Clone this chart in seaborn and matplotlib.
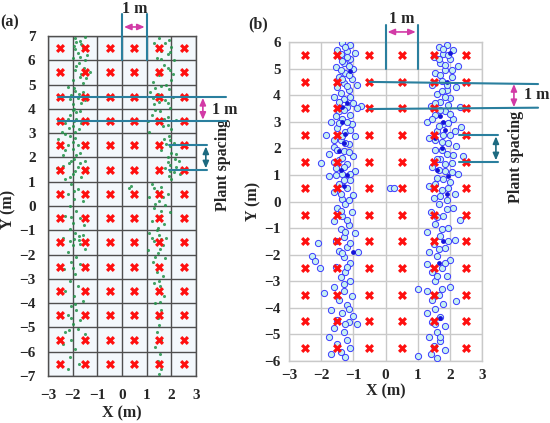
import itertools
import numpy as np
import pandas as pd
import seaborn as sns
import matplotlib.pyplot as plt

sns.set_theme(style="white")
plt.rcParams["font.family"] = ["Liberation Serif", "DejaVu Serif"]
plt.rcParams["font.weight"] = "bold"

# cell centres where the red crosses sit
cross_x = [-2.5, -1.5, -0.5, 0.5, 1.5, 2.5]
cross_y_a = [6.5, 5.5, 4.5, 3.5, 2.5, 1.5, 0.5, -0.5, -1.5, -2.5, -3.5, -4.5, -5.5, -6.5]
cross_y_b = [5.5, 4.5, 3.5, 2.5, 1.5, 0.5, -0.5, -1.5, -2.5, -3.5, -4.5, -5.5]

# (a) green canopy points, left and right plant rows
green_left = [
    (-1.9, 6.9), (-1.7, 6.8), (-1.5, 6.95), (-1.95, 6.6), (-1.6, 6.5), (-1.8, 6.3), (-1.4, 6.2),
    (-2.0, 6.1), (-1.75, 5.9), (-1.55, 5.7), (-1.9, 5.6), (-1.3, 5.5), (-1.7, 5.3), (-2.0, 5.2),
    (-1.6, 5.05), (-2.2, 4.9), (-1.9, 4.75), (-1.6, 4.7), (-2.05, 4.55), (-1.8, 4.45), (-1.5, 4.35),
    (-2.0, 4.2), (-1.95, 4.0), (-1.7, 3.9), (-2.1, 3.75), (-1.85, 3.6), (-1.55, 3.55), (-2.3, 3.4),
    (-2.0, 3.3), (-1.75, 3.15), (-2.45, 3.05), (-2.1, 2.9), (-1.9, 2.8), (-2.6, 2.75), (-1.6, 2.6),
    (-2.2, 2.5), (-2.0, 2.35), (-1.7, 2.2), (-2.4, 2.1), (-1.95, 1.95), (-1.5, 1.85), (-2.15, 1.75),
    (-1.8, 1.6), (-2.65, 1.55), (-1.4, 1.45), (-2.0, 1.3), (-1.65, 1.2), (-2.3, 1.1), (-2.05, 0.9),
    (-1.8, 0.7), (-2.2, 0.5), (-1.95, 0.3), (-1.6, 0.2), (-2.1, 0.0), (-1.85, -0.2), (-2.3, -0.4),
    (-1.7, -0.5), (-2.0, -0.7), (-1.55, -0.8), (-2.1, -0.95), (-1.9, -1.1), (-1.6, -1.2),
    (-2.4, -1.3), (-1.75, -1.4), (-2.0, -1.6), (-1.5, -1.75), (-2.2, -1.9), (-1.85, -2.1),
    (-2.05, -2.3), (-1.7, -2.4), (-2.35, -2.6), (-1.9, -2.8), (-2.1, -3.1), (-1.8, -3.3),
    (-2.3, -3.5), (-1.95, -3.7), (-1.6, -3.9), (-2.05, -4.1), (-1.85, -4.3), (-2.2, -4.5),
    (-1.7, -4.7), (-2.0, -4.85), (-1.8, -5.05), (-2.3, -5.2), (-1.5, -5.25), (-2.05, -5.5),
    (-2.4, -5.7), (-1.9, -5.9), (-2.1, -6.2), (-1.75, -6.5), (-2.2, -6.7),
    # denser tufts along the upper half of the row
    (-1.85, 6.75), (-1.65, 6.65), (-1.45, 6.55), (-1.9, 6.45), (-1.7, 6.15), (-1.5, 6.0),
    (-1.85, 5.75), (-1.65, 5.45), (-1.45, 5.25), (-1.95, 4.85), (-1.75, 4.6), (-2.1, 4.4),
    (-1.65, 4.25), (-2.0, 3.95), (-1.85, 3.85), (-2.2, 3.6), (-1.95, 3.5), (-1.65, 3.4),
    (-2.15, 3.2), (-1.9, 3.05), (-2.3, 2.95), (-2.0, 2.65), (-1.8, 2.5), (-2.3, 2.3),
    (-1.85, 2.1), (-2.05, 1.85), (-1.7, 1.75), (-2.4, 1.65), (-1.9, 1.45), (-1.6, 1.55),
    (-2.1, 1.2), (-1.95, 0.6), (-2.05, -0.45), (-1.75, -1.25), (-1.95, -1.35), (-2.1, -1.45),
    (-1.7, -1.55), (-2.0, -2.55), (-1.9, -4.05), (-2.05, -4.6), (-2.15, -5.1),
]
green_right = [
    (1.5, 6.9), (1.9, 6.85), (1.3, 6.7), (2.0, 6.55), (1.6, 6.4), (1.85, 6.25), (1.4, 6.1),
    (2.1, 6.0), (1.7, 5.8), (1.95, 5.6), (1.5, 5.4), (2.0, 5.2), (1.25, 5.1), (1.6, 4.95),
    (1.9, 4.8), (1.15, 4.7), (1.45, 4.6), (2.05, 4.5), (1.75, 4.35), (1.3, 4.2), (1.95, 4.05),
    (1.55, 3.9), (1.2, 3.75), (1.85, 3.65), (2.2, 3.55), (1.4, 3.4), (1.65, 3.3), (2.0, 3.15),
    (1.1, 3.05), (1.9, 2.9), (1.7, 2.75), (2.1, 2.6), (1.95, 2.45), (1.6, 2.3), (2.2, 2.15),
    (1.85, 2.0), (2.3, 1.85), (1.95, 1.7), (1.75, 1.55), (2.1, 1.4), (1.9, 1.25), (2.0, 1.1),
    (1.2, 0.9), (1.6, 0.8), (1.4, 0.6), (1.85, 0.5), (1.1, 0.35), (1.5, 0.2), (1.75, 0.05),
    (1.3, -0.1), (1.95, -0.25), (1.55, -0.4), (1.2, -0.6), (1.7, -0.75), (1.45, -0.9),
    (1.1, -1.1), (1.5, -1.2), (1.8, -1.3), (1.3, -1.45), (1.65, -1.6), (1.05, -1.8), (1.45, -1.95),
    (1.75, -2.15), (1.25, -2.3), (1.55, -2.5), (1.4, -2.7), (1.65, -2.9), (1.3, -3.15),
    (1.55, -3.3), (1.45, -3.5), (1.7, -3.7), (1.35, -4.0), (1.6, -4.3), (1.45, -4.6), (1.5, -4.9),
    (1.4, -5.2), (1.6, -5.5), (1.35, -5.8), (1.55, -6.1), (1.45, -6.4), (1.6, -6.7), (1.5, -6.9),
    (1.75, 6.7), (1.45, 6.5), (1.95, 6.35), (1.6, 6.05), (1.85, 5.7), (2.05, 5.45),
    (1.8, 5.0), (1.35, 4.85), (1.6, 4.55), (1.25, 4.45), (1.5, 4.3), (1.85, 4.25),
    (1.35, 3.95), (1.7, 3.6), (1.5, 3.55), (1.05, 3.5), (1.85, 3.35), (1.95, 2.7),
    (1.8, 2.55), (2.0, 2.2), (2.15, 1.95), (1.85, 1.8), (2.2, 1.6), (1.95, 1.45),
    (2.35, 1.3), (1.3, 0.75), (1.65, 0.35), (1.35, 0.1), (1.6, -0.2), (1.4, -1.0),
    (1.6, -1.35), (1.2, -1.3), (1.55, -1.75), (1.35, -2.1), (1.5, -3.1), (1.55, -3.95),
    (0.3, 0.75), (0.35, 0.82),
]

# (b) blue canopy contours, open blobs and dark cores
blue_left = [
    (-1.35, 5.95), (-1.1, 5.9), (-1.5, 5.7), (-1.2, 5.65), (-0.95, 5.6), (-1.4, 5.45), (-1.1, 5.35),
    (-1.3, 5.2), (-1.55, 5.05), (-1.0, 5.0), (-1.25, 4.85), (-1.45, 4.7), (-1.05, 4.6), (-1.3, 4.45),
    (-0.9, 4.4), (-1.5, 4.3), (-1.15, 4.2), (-1.6, 3.95), (-1.3, 3.85), (-1.0, 3.7), (-0.75, 3.6),
    (-1.2, 3.55), (-1.45, 3.4), (-1.1, 3.25), (-1.35, 3.1), (-1.7, 3.0), (-1.05, 2.9), (-1.5, 2.75),
    (-1.25, 2.6), (-1.85, 2.5), (-0.95, 2.45), (-1.4, 2.3), (-1.15, 2.15), (-1.6, 2.05), (-1.3, 1.9),
    (-1.75, 1.8), (-1.0, 1.7), (-1.45, 1.55), (-2.0, 1.45), (-1.2, 1.4), (-1.55, 1.25), (-0.95, 1.15),
    (-1.35, 1.05), (-1.75, 0.95), (-1.1, 0.8), (-1.45, 0.65), (-1.2, 0.5), (-1.6, 0.35), (-1.0, 0.25),
    (-1.35, 0.1), (-1.25, -0.1), (-1.5, -0.25), (-1.05, -0.4), (-1.35, -0.55), (-1.6, -0.75),
    (-1.15, -0.9), (-1.4, -1.05), (-0.95, -1.2), (-1.3, -1.35), (-1.55, -1.5), (-2.1, -1.55),
    (-1.2, -1.7), (-1.45, -1.85), (-0.85, -1.9), (-2.3, -2.05), (-2.2, -2.25), (-1.3, -2.1),
    (-1.1, -2.3), (-1.55, -2.45), (-2.05, -2.5), (-1.25, -2.65), (-1.4, -2.85), (-1.1, -3.0),
    (-1.6, -3.2), (-1.3, -3.35), (-1.9, -3.45), (-1.05, -3.55), (-1.45, -3.7), (-1.2, -3.9),
    (-1.7, -4.1), (-1.35, -4.2), (-1.0, -4.3), (-1.5, -4.45), (-1.15, -4.55), (-0.9, -4.6),
    (-1.6, -4.75), (-1.3, -4.9), (-1.75, -5.1), (-1.2, -5.2), (-1.5, -5.35), (-1.1, -5.5),
    (-1.4, -5.65), (-1.7, -5.75), (-1.25, -5.85),
    (-1.25, 5.8), (-1.4, 5.55), (-1.2, 5.45), (-1.35, 5.3), (-1.15, 5.1), (-1.4, 4.95),
    (-1.15, 4.75), (-1.35, 4.6), (-1.2, 4.35), (-1.4, 4.1), (-1.1, 3.95), (-1.45, 3.75),
    (-0.9, 3.5), (-1.3, 3.45), (-1.55, 3.2), (-1.2, 3.0), (-1.45, 2.95), (-1.1, 2.7),
    (-1.35, 2.45), (-1.6, 2.3), (-1.25, 2.2), (-1.5, 1.95), (-1.15, 1.85), (-1.35, 1.65),
    (-1.6, 1.5), (-1.3, 1.3), (-1.1, 1.05), (-1.55, 1.0), (-1.3, 0.8), (-1.4, 0.3),
    (-1.15, 0.05), (-1.4, -0.35), (-1.2, -0.7), (-1.25, -1.15), (-1.1, -1.55), (-1.35, -1.95),
    (-1.2, -2.45), (-1.3, -3.1), (-1.15, -4.05), (-1.25, -4.6),
]
blue_right = [
    (1.9, 5.9), (1.65, 5.8), (2.1, 5.7), (1.8, 5.55), (1.5, 5.45), (2.0, 5.35), (1.7, 5.2),
    (2.25, 5.1), (1.85, 4.95), (1.55, 4.85), (2.05, 4.7), (1.75, 4.55), (1.45, 4.4), (2.2, 4.3),
    (1.9, 4.2), (1.6, 4.05), (2.0, 3.9), (1.7, 3.75), (1.4, 3.6), (2.3, 3.55), (1.85, 3.4),
    (1.55, 3.25), (2.1, 3.1), (1.3, 3.0), (1.8, 2.9), (2.35, 2.8), (1.6, 2.65), (2.0, 2.5),
    (1.35, 2.4), (1.75, 2.25), (2.2, 2.1), (1.55, 1.95), (1.9, 1.8), (2.4, 1.7), (1.7, 1.6),
    (2.05, 1.45), (1.45, 1.3), (1.85, 1.15), (2.25, 1.05), (1.6, 0.9), (2.0, 0.75), (1.35, 0.6),
    (1.75, 0.45), (2.15, 0.3), (1.5, 0.15), (1.9, 0.05), (1.65, -0.1), (2.1, -0.25), (1.4, -0.4),
    (1.8, -0.55), (2.3, -0.7), (1.55, -0.85), (1.95, -1.0), (1.3, -1.15), (1.7, -1.3), (2.15, -1.45),
    (1.5, -1.6), (1.85, -1.75), (1.35, -1.9), (1.6, -2.05), (2.0, -2.2), (1.3, -2.35), (1.75, -2.5),
    (1.45, -2.65), (1.9, -2.8), (1.55, -3.0), (2.0, -3.2), (1.3, -3.35), (1.0, -3.3), (1.65, -3.5),
    (1.45, -3.7), (1.8, -3.85), (2.2, -3.75), (1.55, -4.05), (1.3, -4.2), (1.7, -4.35),
    (1.45, -4.55), (1.85, -4.7), (1.6, -4.9), (1.35, -5.1), (1.7, -5.25), (1.5, -5.45),
    (1.85, -5.6), (1.0, -5.8), (1.6, -5.9), (1.4, -5.75), (0.15, 0.5), (0.27, 0.5),
    (1.8, 5.75), (1.95, 5.5), (1.65, 5.35), (1.85, 5.15), (2.05, 4.95), (1.7, 4.75),
    (1.9, 4.4), (1.75, 4.15), (1.85, 3.95), (1.55, 3.7), (1.95, 3.65), (1.7, 3.45),
    (2.0, 3.3), (1.45, 3.1), (1.95, 2.95), (1.65, 2.85), (2.15, 2.65), (1.8, 2.5),
    (1.55, 2.3), (1.95, 2.2), (1.75, 1.95), (2.1, 1.75), (1.6, 1.6), (1.85, 1.4),
    (1.65, 1.2), (2.05, 1.1), (1.8, 0.85), (1.55, 0.65), (1.95, 0.5), (1.7, 0.2),
    (1.9, -0.3), (1.6, -0.6), (1.75, -1.05), (1.95, -1.5), (1.65, -1.8), (1.85, -2.3),
    (1.6, -2.8), (1.75, -3.3), (1.55, -4.6), (1.7, -5.1),
]
blue_dark = [
    (-1.2, 3.7), (-1.35, 3.0), (-1.3, 2.2), (-1.45, 1.9), (-1.2, 1.0), (-1.3, 0.6), (-1.0, -1.9),
    (-1.1, 4.9), (1.9, 4.5), (1.7, 3.2), (1.85, 2.7), (1.75, 2.0), (1.6, 1.2), (1.9, 0.3),
    (1.8, -1.5), (1.65, -2.3), (1.7, -4.4), (2.0, 5.6), (-1.35, 3.55), (-1.25, 2.55),
    (1.8, 3.0), (1.55, 2.4), (-1.4, 1.2), (1.95, 0.95),
]

teal = "#2a7f9e"
magenta = "#d23aa6"
dark_teal = "#1d6a80"

fig = plt.figure(figsize=(5.5, 4.23), dpi=100)
ax_a = fig.add_axes([0.0873, 0.111, 0.269, 0.804])
ax_b = fig.add_axes([0.5255, 0.1466, 0.351, 0.754])


def crosses(ax, ys):
    df = pd.DataFrame(list(itertools.product(cross_x, ys)), columns=["x", "y"])
    sns.scatterplot(data=df, x="x", y="y", marker="X", color="#ff1010", s=42,
                    linewidth=0, ax=ax, zorder=5)


def frame(ax, ylim, gridcol, face, pad):
    ax.set_xlim(-3, 3)
    ax.set_ylim(*ylim)
    ax.set_xticks(range(-3, 4))
    ax.set_yticks(range(ylim[0], ylim[1] + 1))
    ax.set_facecolor(face)
    ax.grid(True, color=gridcol, lw=1.0)
    ax.set_axisbelow(True)
    for s in ax.spines.values():
        s.set_color(gridcol)
        s.set_linewidth(1.0)
    ax.tick_params(length=0, labelsize=11, pad=pad)
    for lab in ax.get_xticklabels() + ax.get_yticklabels():
        lab.set_fontweight("bold")


def arrow(ax, p0, p1, col):
    ax.annotate("", xy=p1, xytext=p0, annotation_clip=False,
                arrowprops=dict(arrowstyle="<|-|>,head_length=0.35,head_width=0.15",
                                color=col, lw=1.2, shrinkA=0, shrinkB=0))


def txt(ax, x, y, s, rot=0):
    ax.text(x, y, s, ha="center", va="center", fontsize=11.5, fontweight="bold",
            rotation=rot, clip_on=False)


# ---- panel (a)
frame(ax_a, (-7, 7), "#4f4f4f", "#f3f8fc", 9)
ga = pd.DataFrame(green_left + green_right, columns=["x", "y"])
sns.scatterplot(data=ga, x="x", y="y", marker="o", color="#23924a", s=5, alpha=0.85,
                linewidth=0, ax=ax_a, zorder=3)
crosses(ax_a, cross_y_a)
ax_a.set_xlabel("X (m)", fontsize=11.5, fontweight="bold", labelpad=3)
ax_a.set_ylabel("Y (m)", fontsize=11.5, fontweight="bold")
ax_a.yaxis.set_label_coords(-0.215, 0.49)

for xv in (0, 1):
    ax_a.plot([xv, xv], [6, 7.9], color=teal, lw=1.5, clip_on=False, zorder=6)
arrow(ax_a, (0.08, 7.37), (0.92, 7.37), magenta)
txt(ax_a, 0.5, 8.12, "1 m")
for yv in (4.5, 3.5):
    ax_a.plot([-2.6, 4.2], [yv, yv], color=teal, lw=1.5, clip_on=False, zorder=6)
arrow(ax_a, (3.28, 4.45), (3.28, 3.55), magenta)
txt(ax_a, 4.17, 3.95, "1 m")
for yv in (2.5, 1.5):
    ax_a.plot([1.9, 3.45], [yv, yv], color=teal, lw=1.5, clip_on=False, zorder=6)
arrow(ax_a, (3.4, 2.45), (3.4, 1.55), dark_teal)
txt(ax_a, 4.1, 1.69, "Plant spacing", rot=90)

# ---- panel (b)
frame(ax_b, (-6, 6), "#c9c9c9", "white", 6)
bb = pd.DataFrame(blue_left + blue_right, columns=["x", "y"])
sns.scatterplot(data=bb, x="x", y="y", marker="o", s=20, facecolor="#c6f1f1",
                edgecolor="#3a3aff", linewidth=0.7, ax=ax_b, zorder=3)
bd = pd.DataFrame(blue_dark, columns=["x", "y"])
sns.scatterplot(data=bd, x="x", y="y", marker="o", s=12, color="#1414d8",
                linewidth=0, ax=ax_b, zorder=4)
crosses(ax_b, cross_y_b)
ax_b.set_xlabel("X (m)", fontsize=11.5, fontweight="bold", labelpad=1)
ax_b.set_ylabel("Y (m)", fontsize=11.5, fontweight="bold")
ax_b.yaxis.set_label_coords(-0.145, 0.5)

for xv in (0, 1):
    ax_b.plot([xv, xv], [5, 6.64], color=teal, lw=1.5, clip_on=False, zorder=6)
arrow(ax_b, (0.06, 6.38), (0.94, 6.38), magenta)
txt(ax_b, 0.5, 6.85, "1 m")
ax_b.plot([-0.5, 4.74], [4.5, 4.42], color=teal, lw=1.5, clip_on=False, zorder=6)
ax_b.plot([-0.5, 4.74], [3.48, 3.53], color=teal, lw=1.5, clip_on=False, zorder=6)
arrow(ax_b, (3.99, 4.42), (3.99, 3.55), magenta)
txt(ax_b, 4.7, 4.0, "1 m")
for yv in (2.5, 1.5):
    ax_b.plot([2.28, 3.49], [yv, yv], color=teal, lw=1.5, clip_on=False, zorder=6)
arrow(ax_b, (3.43, 2.45), (3.43, 1.55), dark_teal)
txt(ax_b, 4.05, 1.66, "Plant spacing", rot=90)

fig.text(0.018, 0.948, "(a)", fontsize=11.5, fontweight="bold", ha="center", va="center")
fig.text(0.469, 0.943, "(b)", fontsize=11.5, fontweight="bold", ha="center", va="center")

fig.savefig("out.png", dpi=100)
